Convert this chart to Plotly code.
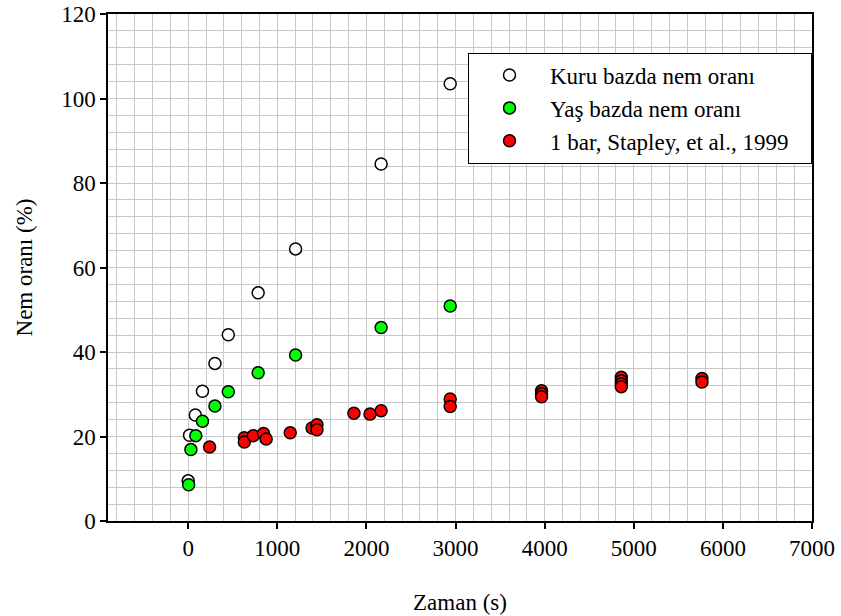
import plotly.graph_objects as go

# Kuru bazda nem oranı (dry basis)
t_kuru = [0, 15, 80, 160, 300, 450, 785, 1205, 2165, 2940]
nem_kuru = [9.5, 20.3, 25.1, 30.7, 37.3, 44.1, 54.0, 64.4, 84.5, 103.5]

# Yaş bazda nem oranı (wet basis)
t_yas = [5, 30, 85, 160, 300, 450, 785, 1205, 2165, 2940]
nem_yas = [8.6, 16.9, 20.2, 23.6, 27.2, 30.6, 35.1, 39.3, 45.8, 50.9]

# 1 bar, Stapley, et al., 1999
t_stapley = [240, 630, 630, 730, 845, 875, 1145, 1390, 1445, 1445, 1860, 2040,
             2165, 2940, 2940, 3965, 3965, 3965, 4860, 4860, 4860, 4860, 5765, 5765]
nem_stapley = [17.5, 19.7, 18.7, 20.2, 20.7, 19.4, 20.9, 22.0, 22.8, 21.6, 25.5, 25.3,
               26.1, 28.9, 27.1, 30.8, 30.1, 29.4, 34.0, 33.2, 32.5, 31.8, 33.7, 32.9]

x_ticks = [0, 1000, 2000, 3000, 4000, 5000, 6000, 7000]
y_ticks = [0, 20, 40, 60, 80, 100, 120]

FONT = "Liberation Serif"
GRID = "#c8c8c8"
PAD = "\u00a0" * 3  # extra room at the right side of the legend box

fig = go.Figure()

def add_series(x, y, name, fill):
    fig.add_trace(go.Scatter(
        x=x, y=y, mode="markers", name=name,
        marker=dict(size=12, color=fill, line=dict(color="black", width=1.5)),
    ))

add_series(t_kuru, nem_kuru, "Kuru bazda nem oranı", "white")
add_series(t_yas, nem_yas, "Yaş bazda nem oranı", "#00ff00")
add_series(t_stapley, nem_stapley, "1 bar, Stapley, et al., 1999" + PAD, "#ff0000")

axis_common = dict(
    showline=True, linecolor="black", linewidth=1.5, mirror=True,
    ticks="outside", ticklen=6, tickwidth=1.5, tickcolor="black",
    showgrid=True, gridcolor=GRID, gridwidth=1,
    zeroline=False, automargin=False,
    tickfont=dict(family=FONT, size=23, color="black"),
)

fig.update_xaxes(
    range=[-900, 7000], tickvals=x_ticks,
    minor=dict(dtick=200, tick0=0, showgrid=True, gridcolor=GRID, gridwidth=1, ticks=""),
    title=dict(text="Zaman (s)", font=dict(family=FONT, size=23, color="black"), standoff=34),
    **axis_common,
)
fig.update_yaxes(
    range=[0, 120], tickvals=y_ticks,
    minor=dict(dtick=4, tick0=0, showgrid=True, gridcolor=GRID, gridwidth=1, ticks=""),
    title=dict(text="Nem oranı (%)", font=dict(family=FONT, size=23, color="black"), standoff=22),
    **axis_common,
)

fig.update_layout(
    width=841, height=616,
    margin=dict(l=108, r=29, t=14, b=95, autoexpand=False),
    paper_bgcolor="white", plot_bgcolor="white",
    font=dict(family=FONT, size=23, color="black"),
    legend=dict(
        x=1, xanchor="right", y=0.924, yanchor="top",
        bgcolor="white", bordercolor="black", borderwidth=1,
        itemwidth=71,
        font=dict(family=FONT, size=23, color="black"),
    ),
)

fig.write_html("out.html")
